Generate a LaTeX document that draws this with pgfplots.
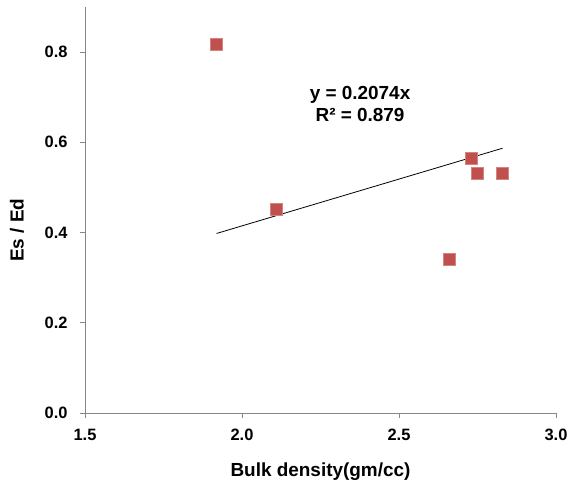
\documentclass[border=0pt]{standalone}
\usepackage{pgfplots}
\pgfplotsset{compat=1.18}
\usepackage{fontspec}
\setmainfont{Liberation Sans}
\definecolor{mred}{HTML}{C0504D}
\definecolor{axgray}{HTML}{868686}
\begin{document}
\begin{tikzpicture}
\begin{axis}[
  scale only axis,
  width=471bp, height=406bp,
  xmin=1.5, xmax=3.0, ymin=0, ymax=0.9,
  axis lines*=left,
  axis line style={axgray, line width=0.8pt},
  tick style={axgray, line width=0.8pt},
  tick align=outside,
  major tick length=5bp,
  xtick={1.5,2.0,2.5,3.0},
  ytick={0,0.2,0.4,0.6,0.8},
  xticklabel style={/pgf/number format/fixed, /pgf/number format/fixed zerofill, /pgf/number format/precision=1, yshift=-8bp},
  yticklabel style={/pgf/number format/fixed, /pgf/number format/fixed zerofill, /pgf/number format/precision=1, xshift=-9bp},
  /pgf/number format/assume math mode=true,
  ticklabel style={font=\fontsize{16.5}{19}\selectfont\bfseries},
  xlabel={Bulk density(gm/cc)},
  ylabel={Es / Ed},
  label style={font=\fontsize{19}{22}\selectfont\bfseries},
  xlabel style={at={(axis description cs:0.5,0)}, anchor=center, yshift=-59bp},
  ylabel style={at={(axis description cs:0,0.45)}, anchor=center, yshift=68bp},
  clip=false,
]
\addplot[only marks, mark=square*, mark size=6bp, mark options={fill=mred, draw=mred!70!white, line width=0.5pt}]
  coordinates {(1.919,0.818) (2.110,0.451) (2.659,0.340) (2.729,0.565) (2.749,0.532) (2.830,0.532)};
\addplot[black, line width=0.8pt] coordinates {(1.919,0.398) (2.830,0.587)};
\node[font=\fontsize{19}{23}\selectfont\bfseries, align=center] at (axis cs:2.376,0.685) {y = 0.2074x\\R² = 0.879};
\end{axis}
\pgfresetboundingbox
\path[use as bounding box] (-85bp,-70bp) rectangle (486bp,413bp);
\end{tikzpicture}
\end{document}
